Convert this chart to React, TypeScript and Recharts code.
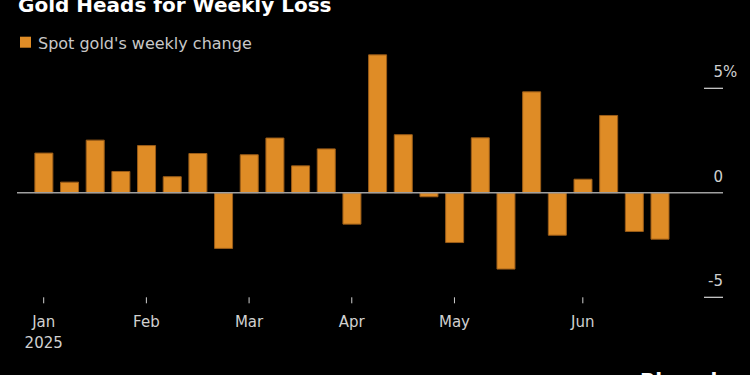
import React from "react";
import { BarChart, Bar, XAxis, YAxis, ReferenceLine } from "recharts";

const weeks = [
  "2025-01-06", "2025-01-13", "2025-01-20", "2025-01-27", "2025-02-03",
  "2025-02-10", "2025-02-17", "2025-02-24", "2025-03-03", "2025-03-10",
  "2025-03-17", "2025-03-24", "2025-03-31", "2025-04-07", "2025-04-14",
  "2025-04-21", "2025-04-28", "2025-05-05", "2025-05-12", "2025-05-19",
  "2025-05-26", "2025-06-02", "2025-06-09", "2025-06-16", "2025-06-23",
];
const weeklyChange = [
  1.9, 0.51, 2.52, 1.02, 2.26, 0.77, 1.88, -2.66, 1.82, 2.62, 1.29, 2.1, -1.5,
  6.6, 2.78, -0.19, -2.38, 2.63, -3.65, 4.83, -2.03, 0.65, 3.7, -1.85, -2.22,
];
const monthTickIndex = [0, 4, 8, 12, 16, 21];
const monthLabels = ["Jan", "Feb", "Mar", "Apr", "May", "Jun"];
const yTicks = [-5, 0, 5];

const data = weeks.map((w, i) => ({ i, week: w, value: weeklyChange[i] }));

const FONT = "'DejaVu Sans', sans-serif";
const ORANGE = "#DF8C26";

const XTick = (props: any) => {
  const { x, y, payload } = props;
  const k = monthTickIndex.indexOf(payload.value);
  const label = monthLabels[k] ?? "";
  return (
    <g>
      <text x={x} y={y + 24} textAnchor="middle" fill="#d0d0d0" fontSize={15} fontFamily={FONT}>
        {label}
      </text>
      {k === 0 && (
        <text x={x} y={y + 44.5} textAnchor="middle" fill="#d0d0d0" fontSize={15} fontFamily={FONT}>
          2025
        </text>
      )}
    </g>
  );
};

const YTick = (props: any) => {
  const { x, y, payload } = props;
  const v = payload.value;
  return (
    <g>
      {v !== 0 && <line x1={x - 19} x2={x} y1={y} y2={y} stroke="#d8d8d8" strokeWidth={1.2} />}
      <text x={x} y={y - 11} textAnchor="end" fill="#d0d0d0" fontSize={15} fontFamily={FONT}>
        {String(v)}
      </text>
      {v === 5 && (
        <text x={x} y={y - 11} textAnchor="start" fill="#d0d0d0" fontSize={15} fontFamily={FONT}>
          %
        </text>
      )}
    </g>
  );
};

export default function App() {
  return (
    <div style={{ position: "absolute", left: 0, top: 0, width: 750, height: 375, background: "#000", overflow: "hidden" }}>
      <BarChart
        width={750}
        height={375}
        data={data}
        margin={{ top: 46.5, right: 0, left: 17, bottom: 37.7 }}
      >
        <XAxis
          dataKey="i"
          type="number"
          domain={[-1.04, 26.46]}
          ticks={monthTickIndex}
          interval={0}
          axisLine={false}
          tickLine={{ stroke: "#d0d0d0", strokeWidth: 1 }}
          tickSize={6}
          tickMargin={0}
          height={40}
          tick={<XTick />}
          allowDataOverflow
        />
        <YAxis
          orientation="right"
          type="number"
          domain={[-5, 7]}
          ticks={yTicks}
          interval={0}
          width={27}
          axisLine={false}
          tickLine={false}
          tickSize={0}
          tickMargin={0}
          tick={<YTick />}
        />
        <Bar dataKey="value" fill={ORANGE} stroke="#9a5c18" strokeWidth={1} barSize={18} isAnimationActive={false} />
        <ReferenceLine y={0} stroke="#a0a0a0" strokeWidth={1.6} />
      </BarChart>
      <svg width={750} height={375} style={{ position: "absolute", left: 0, top: 0, pointerEvents: "none" }}>
        <text x={18} y={12} fill="#ffffff" fontSize={20} fontWeight="bold" fontFamily={FONT}>
          Gold Heads for Weekly Loss
        </text>
        <rect x={20} y={36.7} width={11} height={11} fill={ORANGE} />
        <text x={38} y={48.5} fill="#c8c8c8" fontSize={16} fontFamily={FONT}>
          Spot gold's weekly change
        </text>
        <text x={640} y={387} fill="#ffffff" fontSize={20} fontWeight="bold" fontFamily={FONT}>
          Bloomberg
        </text>
      </svg>
    </div>
  );
}
